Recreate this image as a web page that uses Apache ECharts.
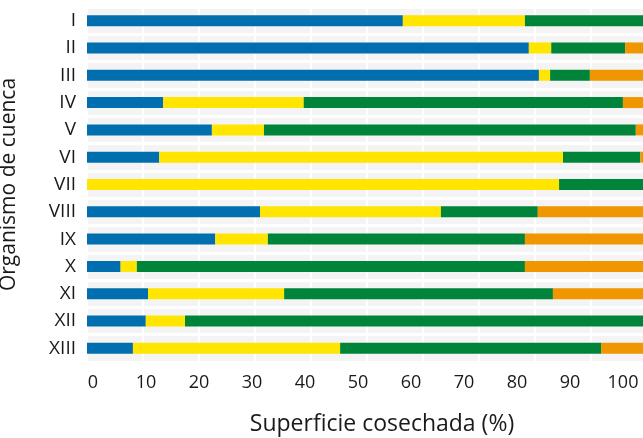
<!DOCTYPE html>
<html>
<head>
<meta charset="utf-8">
<script src="https://cdn.jsdelivr.net/npm/echarts@6/dist/echarts.min.js"></script>
<style>
  html, body { margin: 0; padding: 0; background: #ffffff; }
  #chart { width: 643px; height: 438px; }
</style>
</head>
<body>
<div id="chart"></div>
<script>
// organismos de cuenca, de arriba hacia abajo
const categories = ["I", "II", "III", "IV", "V", "VI", "VII", "VIII", "IX", "X", "XI", "XII", "XIII"];

// porcentajes de superficie cosechada por tramo
const serieAzul     = [56.4, 78.9, 80.7, 13.6, 22.3, 12.9, 0.0, 30.9, 22.9, 6.0, 10.9, 10.5, 8.2];
const serieAmarilla = [21.8, 4.0, 2.0, 25.1, 9.3, 72.1, 84.3, 32.3, 9.4, 2.9, 24.3, 7.0, 37.0];
const serieVerde    = [21.8, 13.2, 7.1, 57.0, 66.4, 13.8, 15.7, 17.3, 45.9, 69.3, 48.0, 82.5, 46.6];
const serieNaranja  = [0.0, 3.9, 10.2, 4.3, 2.0, 1.2, 0.0, 19.5, 21.8, 21.8, 16.8, 0.0, 8.2];

const tickLabels = ["0", "10", "20", "30", "40", "50", "60", "70", "80", "90", "100"];

const colores = ["#006eaf", "#ffe500", "#00843a", "#ef9600"];
const FONT = "Open Sans";

const myChart = echarts.init(document.getElementById("chart"));

function serie(name, data, color) {
  return {
    name: name,
    type: "bar",
    stack: "total",
    barWidth: 11,
    xAxisIndex: 0,
    yAxisIndex: 0,
    itemStyle: { color: color },
    data: data
  };
}

let option = {
  animation: false,
  grid: [
    {
      left: 87,
      right: -4,
      top: 7,
      bottom: 76,
      outerBoundsMode: "none",
      containLabel: false,
      show: true,
      backgroundColor: "#f4f4f4",
      borderWidth: 0
    },
    {
      // solo para las etiquetas del eje x
      left: 93,
      right: 20,
      top: 7,
      bottom: 76,
      outerBoundsMode: "none",
      containLabel: false
    }
  ],
  xAxis: [
    {
      type: "value",
      gridIndex: 0,
      min: 0,
      max: 100,
      interval: 10,
      axisLine: { show: false },
      axisTick: { show: false },
      axisLabel: { show: false },
      splitLine: { show: true, lineStyle: { color: "#ffffff", width: 2 } }
    },
    {
      type: "category",
      gridIndex: 1,
      data: tickLabels,
      boundaryGap: false,
      axisLine: { show: false },
      axisTick: { show: false },
      splitLine: { show: false },
      axisLabel: {
        show: true,
        interval: 0,
        margin: 12,
        color: "#1a1a1a",
        fontSize: 18,
        fontFamily: FONT
      }
    }
  ],
  yAxis: [
    {
      type: "category",
      gridIndex: 0,
      inverse: true,
      data: categories,
      axisLine: { show: false },
      axisTick: { show: false },
      splitLine: { show: true, lineStyle: { color: "#ffffff", width: 3 } },
      axisLabel: {
        margin: 11,
        color: "#1a1a1a",
        fontSize: 19,
        fontFamily: FONT
      },
      name: "Organismo de cuenca",
      nameLocation: "middle",
      nameGap: 67,
      nameRotate: 90,
      nameTextStyle: {
        color: "#1a1a1a",
        fontSize: 21,
        fontFamily: FONT
      }
    },
    {
      type: "category",
      gridIndex: 1,
      data: [],
      show: false
    }
  ],
  graphic: [
    {
      type: "text",
      x: 382,
      y: 424,
      style: {
        text: "Superficie cosechada (%)",
        fill: "#1a1a1a",
        fontSize: 23,
        fontFamily: FONT,
        textAlign: "center",
        textVerticalAlign: "middle"
      }
    }
  ],
  series: [
    serie("azul", serieAzul, colores[0]),
    serie("amarillo", serieAmarilla, colores[1]),
    serie("verde", serieVerde, colores[2]),
    serie("naranja", serieNaranja, colores[3])
  ]
};

myChart.setOption(option);
</script>
</body>
</html>
